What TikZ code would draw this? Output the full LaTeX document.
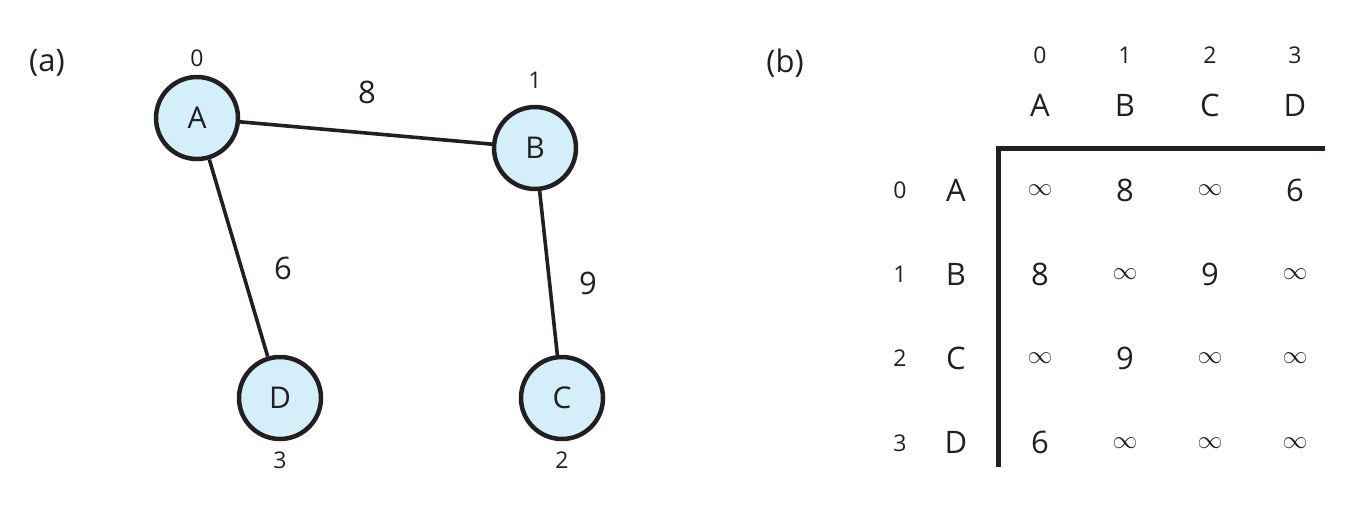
\documentclass[tikz,border=0pt]{standalone}
\usepackage{fontspec}
\setmainfont{Open Sans}
\usetikzlibrary{positioning}

\definecolor{vertexfill}{RGB}{212,238,250}
\definecolor{ink}{RGB}{35,31,32}

\newcommand{\inff}{{\fontsize{26}{28}\selectfont$\infty$}}

\begin{document}
\begin{tikzpicture}[x=1pt, y=-1pt,
  vertex/.style={circle, draw=ink, line width=4.5pt, fill=vertexfill,
                 minimum size=82pt, inner sep=0pt, text=ink,
                 font=\fontsize{30}{36}\selectfont},
  idx/.style={inner sep=2pt, text=ink, font=\fontsize{23}{28}\selectfont},
  big/.style={inner sep=2pt, text=ink, font=\fontsize{31}{36}\selectfont},
  link/.style={draw=ink, line width=3.6pt}]

\useasboundingbox (0,0) rectangle (1362,512);

% Panel (a): the graph
\node[big] (pa) at (47,63) {(a)};

\node[vertex] (A) at (197,118) {A};
\node[vertex] (B) at (535,148) {B};
\node[vertex] (C) at (562,398) {C};
\node[vertex] (D) at (280,398) {D};

\node[idx, above=6pt of A] (iA) {0};
\node[idx, above=14pt of B] (iB) {1};
\node[idx, below=8pt of C] (iC) {2};
\node[idx, below=8pt of D] (iD) {3};

\draw[link] (A) -- (B);
\draw[link] (A) -- (D);
\draw[link] (B) -- (C);

% Edge weights
\node[big] (w8) at (367,92) {8};
\node[big] (w6) at (283,268) {6};
\node[big] (w9) at (588,283) {9};

% Panel (b): the adjacency matrix
\node[big] (pb) at (785,63) {(b)};

\foreach \name [count=\i from 0] in {A,B,C,D} {
    \node[idx] (col\i) at (1040+85*\i,55) {\i};
    \node[big] (colname\i) at (1040+85*\i,105) {\name};
    \node[idx] (row\i) at (900,190+84.3*\i) {\i};
    \node[big] (rowname\i) at (956,190+84.3*\i) {\name};
}

\foreach \vals [count=\r from 0] in {{\inff,8,\inff,6},{8,\inff,9,\inff},
                                     {\inff,9,\inff,\inff},{6,\inff,\inff,\inff}} {
    \foreach \v [count=\c from 0] in \vals {
        \node[big] (m-\r-\c) at (1040+85*\c,190+84.3*\r) {\v};
    }
}

% Matrix frame
\draw[ink, line width=5pt] (1325,148) -| (998,467);

\end{tikzpicture}
\end{document}
